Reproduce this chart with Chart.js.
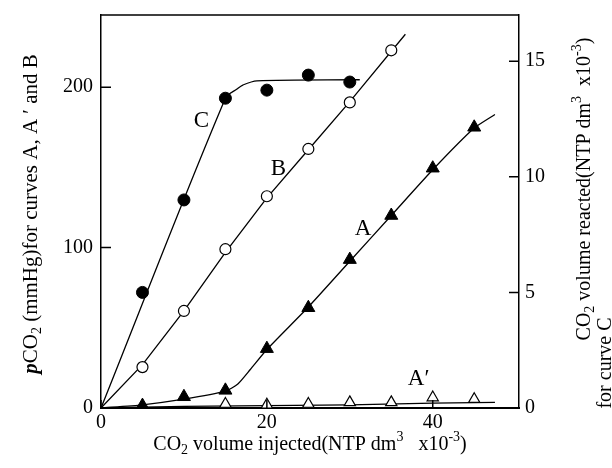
<!DOCTYPE html>
<html>
<head>
<meta charset="utf-8">
<script src="https://cdn.jsdelivr.net/npm/chart.js@4/dist/chart.umd.min.js"></script>
<style>
  html, body { margin: 0; padding: 0; background: #fff; }
</style>
</head>
<body>
<canvas id="grafico" width="612" height="468"></canvas>
<script>
// CO2 inyectado (eje x) y valores
const xInyectado = [5, 10, 15, 20, 25, 30, 35, 40, 45];
const curvaA  = [1.5, 7, 11, 37, 62.5, 92.5, 120, 149.5, 175];      // pCO2 mmHg
const curvaB  = [25.5, 60.5, 99, 132, 161.5, 190.5, 223];          // pCO2 mmHg
const curvaC  = [5.0, 9.0, 13.4, 13.75, 14.4, 14.1];               // volumen reaccionado
const xAprima = [15, 20, 25, 30, 35, 40, 45];
const curvaAprima = [2.5, 2, 2.5, 3.5, 3.5, 6.5, 5.5];

// lineas dibujadas a mano en la figura (ajustes)
const ajusteAx = [0, 5, 10, 15, 16.5, 18, 20, 25, 30, 35, 40, 45, 47.5];
const ajusteA  = [0, 2, 5.5, 10.5, 15, 24, 36.5, 63, 91.5, 120, 148.5, 174.5, 183];
const ajusteBx = [0, 5, 10, 15, 20, 25, 30, 36.7];
const ajusteB  = [0, 27, 60.5, 97, 131, 161, 191, 233];
const ajusteCx = [0, 15, 16.4, 17.1, 18.8, 31.2];
const ajusteC  = [0, 13.4, 13.8, 13.97, 14.15, 14.2];
const ajusteApx = [0, 10, 20, 30, 40, 47.5];
const ajusteAp  = [0, 1, 1.5, 2, 3, 3.5];

const ticksX = [0, 20, 40];
const ticksIzq = [0, 100, 200];
const ticksDer = [0, 5, 10, 15];

// etiquetas de las curvas (x, pCO2)
const etiquetas = ['C', 'B', 'A', 'A\u2032'];
const etiquetaX = [12.1, 21.4, 31.6, 38.3];
const etiquetaY = [179, 149, 111.5, 18];

const pares = (xs, ys) => ys.map((v, i) => ({ x: xs[i], y: v }));
const serif = '"Liberation Serif", "Times New Roman", serif';

function textoRico(ctx, partes, cx, cy, rot, size) {
  ctx.save();
  ctx.translate(cx, cy);
  ctx.rotate(rot);
  const fuente = p => (p.e || '') + ' ' + (p.s ? Math.round(size * 0.68) : size) + 'px ' + serif;
  let total = 0;
  partes.forEach(p => { ctx.font = fuente(p); total += ctx.measureText(p.t).width; });
  let x = -total / 2;
  ctx.textAlign = 'left';
  ctx.textBaseline = 'alphabetic';
  ctx.fillStyle = '#000';
  partes.forEach(p => {
    ctx.font = fuente(p);
    const dy = p.s === 'sup' ? -size * 0.42 : p.s === 'sub' ? size * 0.2 : 0;
    ctx.fillText(p.t, x, dy + size * 0.33);
    x += ctx.measureText(p.t).width;
  });
  ctx.restore();
}

const marco = {
  id: 'marco',
  afterDraw(chart) {
    const { ctx, chartArea: a, scales } = chart;
    ctx.save();
    ctx.strokeStyle = '#000';
    ctx.lineWidth = 1.5;
    ctx.beginPath();
    ctx.moveTo(a.left, a.top); ctx.lineTo(a.right, a.top);
    ticksIzq.forEach(v => { const p = scales.y.getPixelForValue(v); ctx.moveTo(a.left, p); ctx.lineTo(a.left + 10, p); });
    ticksDer.forEach(v => { const p = scales.y1.getPixelForValue(v); ctx.moveTo(a.right, p); ctx.lineTo(a.right - 10, p); });
    ticksX.forEach(v => { const p = scales.x.getPixelForValue(v); ctx.moveTo(p, a.bottom); ctx.lineTo(p, a.bottom - 8); });
    ctx.stroke();

    ctx.fillStyle = '#000';
    ctx.font = '23px ' + serif;
    ctx.textAlign = 'center';
    ctx.textBaseline = 'middle';
    etiquetas.forEach((t, i) => {
      ctx.fillText(t, scales.x.getPixelForValue(etiquetaX[i]), scales.y.getPixelForValue(etiquetaY[i]));
    });
    ctx.restore();

    textoRico(ctx, [{ t: 'CO' }, { t: '2', s: 'sub' }, { t: ' volume injected(NTP dm' }, { t: '3', s: 'sup' },
      { t: '   x10' }, { t: '-3', s: 'sup' }, { t: ')' }], 310, 443, 0, 20);
    textoRico(ctx, [{ t: 'p', e: 'italic bold' }, { t: 'CO' }, { t: '2', s: 'sub' }, { t: ' (mmHg)for curves A, A \u2032 and B' }],
      30, 214, -Math.PI / 2, 21);
    textoRico(ctx, [{ t: 'CO' }, { t: '2', s: 'sub' }, { t: ' volume reacted(NTP dm' }, { t: '3', s: 'sup' },
      { t: '  x10' }, { t: '-3', s: 'sup' }, { t: ')' }], 583, 189, -Math.PI / 2, 20);
    textoRico(ctx, [{ t: 'for curve C' }], 604, 363, -Math.PI / 2, 20);
  }
};

// ancho fijo del eje y sin relleno extra arriba/abajo
const anchoEje = w => scale => { scale.width = w; scale.paddingTop = 0; scale.paddingBottom = 0; };

new Chart(document.getElementById('grafico'), {
  type: 'scatter',
  data: {
    datasets: [
      { label: 'C', data: pares(xInyectado, curvaC), yAxisID: 'y1', pointStyle: 'circle', pointRadius: 6,
        backgroundColor: '#000', borderColor: '#000', borderWidth: 1 },
      { label: 'B', data: pares(xInyectado, curvaB), pointStyle: 'circle', pointRadius: 5.5,
        backgroundColor: '#fff', borderColor: '#000', borderWidth: 1.2 },
      { label: 'A', data: pares(xInyectado, curvaA), pointStyle: 'triangle', pointRadius: 7.5,
        backgroundColor: '#000', borderColor: '#000', borderWidth: 1 },
      { label: "A'", data: pares(xAprima, curvaAprima), pointStyle: 'triangle', pointRadius: 6.5,
        backgroundColor: '#fff', borderColor: '#000', borderWidth: 1.2 },
      { data: pares(ajusteCx, ajusteC), yAxisID: 'y1', showLine: true, pointRadius: 0, borderColor: '#000', borderWidth: 1.3, tension: 0.3 },
      { data: pares(ajusteBx, ajusteB), showLine: true, pointRadius: 0, borderColor: '#000', borderWidth: 1.3 },
      { data: pares(ajusteAx, ajusteA), showLine: true, pointRadius: 0, borderColor: '#000', borderWidth: 1.3, tension: 0.2 },
      { data: pares(ajusteApx, ajusteAp), showLine: true, pointRadius: 0, borderColor: '#000', borderWidth: 1.3 }
    ]
  },
  options: {
    responsive: false,
    animation: false,
    layout: { padding: { top: 15, left: 0, right: 0, bottom: 0 } },
    plugins: { legend: { display: false }, tooltip: { enabled: false } },
    scales: {
      x: {
        min: 0, max: 50.4,
        afterBuildTicks: s => { s.ticks = ticksX.map(v => ({ value: v })); },
        afterFit: s => { s.height = 60; s.paddingLeft = 0; s.paddingRight = 0; },
        grid: { drawOnChartArea: false, drawTicks: false },
        border: { color: '#000', width: 2 },
        ticks: { color: '#000', font: { family: serif, size: 20 }, padding: 3, maxRotation: 0 }
      },
      y: {
        min: 0, max: 245,
        afterBuildTicks: s => { s.ticks = ticksIzq.map(v => ({ value: v })); },
        afterFit: anchoEje(101),
        grid: { drawOnChartArea: false, drawTicks: false },
        border: { color: '#000', width: 1.5 },
        ticks: { color: '#000', font: { family: serif, size: 20 }, padding: 8 }
      },
      y1: {
        position: 'right',
        min: 0, max: 17,
        afterBuildTicks: s => { s.ticks = ticksDer.map(v => ({ value: v })); },
        afterFit: anchoEje(93),
        grid: { drawOnChartArea: false, drawTicks: false },
        border: { color: '#000', width: 1.5 },
        ticks: { color: '#000', font: { family: serif, size: 20 }, padding: 6 }
      }
    }
  },
  plugins: [marco]
});
</script>
</body>
</html>
